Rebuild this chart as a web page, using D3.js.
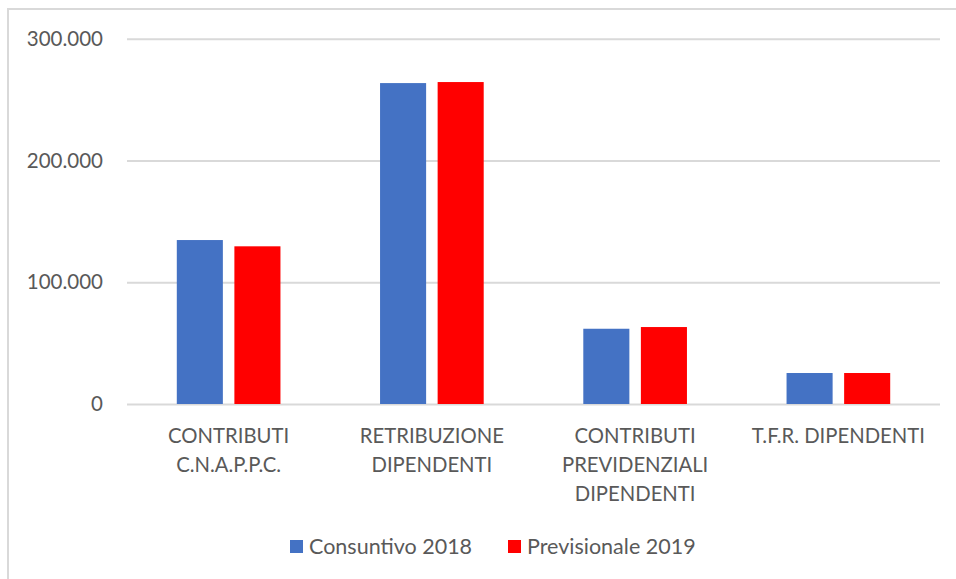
<!DOCTYPE html>
<html>
<head>
<meta charset="utf-8">
<script src="https://cdn.jsdelivr.net/npm/d3@7"></script>
<style>
    body { margin: 0; background: #fff; }
    svg text { font-family: Lato, "Open Sans", sans-serif; fill: #595959; }
</style>
</head>
<body>
<div id="chart"></div>
<script>
'use strict';

var categories = [
    ['CONTRIBUTI', 'C.N.A.P.P.C.'],
    ['RETRIBUZIONE', 'DIPENDENTI'],
    ['CONTRIBUTI', 'PREVIDENZIALI', 'DIPENDENTI'],
    ['T.F.R. DIPENDENTI']
];
var seriesNames = ['Consuntivo 2018', 'Previsionale 2019'];
var consuntivo2018 = [134650, 263550, 61800, 25450];
var previsionale2019 = [129500, 264400, 63200, 25450];
var yTicks = [0, 100000, 200000, 300000];
var colors = ['#4472C4', '#FF0000'];

var width = 956, height = 579;
var plot = {left: 127, right: 940, top: 38.7, bottom: 404};

var svg = d3.select('#chart').append('svg')
    .attr('width', width)
    .attr('height', height);

svg.append('rect')
    .attr('x', 8).attr('y', 9)
    .attr('width', width + 20).attr('height', height + 20)
    .attr('fill', 'none')
    .attr('stroke', '#d9d9d9')
    .attr('stroke-width', 2);

var y = d3.scaleLinear().domain([0, 300000]).range([plot.bottom, plot.top]);

var x0 = d3.scaleBand()
    .domain(d3.range(categories.length))
    .range([plot.left, plot.right])
    .paddingInner(0.49)
    .paddingOuter(0.245);

var x1 = d3.scaleBand()
    .domain(d3.range(seriesNames.length))
    .range([0, x0.bandwidth()])
    .paddingInner(0.2);

var fmt = function(v) { return d3.format(',')(v).replace(/,/g, '.'); };

// gridlines + labels
var yAxis = d3.axisLeft(y).tickValues(yTicks).tickSize(-(plot.right - plot.left)).tickFormat(fmt).tickPadding(24);
var gy = svg.append('g').attr('transform', 'translate(' + plot.left + ',0)').call(yAxis);
gy.select('.domain').remove();
gy.selectAll('.tick line').attr('stroke', '#d9d9d9').attr('stroke-width', 2);
gy.selectAll('.tick text').attr('font-size', 20.5).style('fill', '#595959');

var data = categories.map(function(c, i) { return [consuntivo2018[i], previsionale2019[i]]; });

var groups = svg.append('g').selectAll('g')
    .data(data)
    .enter().append('g')
    .attr('transform', function(d, i) { return 'translate(' + x0(i) + ',0)'; });

groups.selectAll('rect')
    .data(function(d) { return d; })
    .enter().append('rect')
    .attr('x', function(d, j) { return x1(j); })
    .attr('y', function(d) { return y(d); })
    .attr('width', x1.bandwidth())
    .attr('height', function(d) { return y(0) - y(d); })
    .attr('fill', function(d, j) { return colors[j]; });

// category labels
var labels = svg.append('g').selectAll('text')
    .data(categories)
    .enter().append('text')
    .attr('text-anchor', 'middle')
    .attr('font-size', 20.3)
    .attr('x', function(d, i) { return x0(i) + x0.bandwidth() / 2; })
    .attr('y', 443);

labels.selectAll('tspan')
    .data(function(d) { return d; })
    .enter().append('tspan')
    .attr('x', function() { return d3.select(this.parentNode).attr('x'); })
    .attr('dy', function(d, k) { return k === 0 ? 0 : 29; })
    .text(function(d) { return d; });

// legend
var legendX = [290, 508];
var legend = svg.append('g').selectAll('g')
    .data(seriesNames)
    .enter().append('g')
    .attr('transform', function(d, i) { return 'translate(' + legendX[i] + ',540)'; });

legend.append('rect')
    .attr('width', 13).attr('height', 13)
    .attr('fill', function(d, i) { return colors[i]; });

legend.append('text')
    .attr('x', 19)
    .attr('y', 14)
    .attr('font-size', 21.5)
    .text(function(d) { return d; });
</script>
</body>
</html>
